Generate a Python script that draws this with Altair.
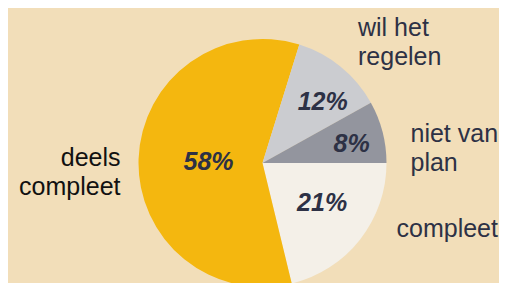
import altair as alt
import pandas as pd

# ---- data ----
categories = ["compleet", "deels compleet", "wil het regelen", "niet van plan"]
values = [21, 58, 12, 8]
pct_labels = ["21%", "58%", "12%", "8%"]
slice_colors = ["#F4F0E8", "#F4B70F", "#CBCCD0", "#93959E"]
outer_labels = ["compleet", "deels\ncompleet", "wil het\nregelen", "niet van\nplan"]

df = pd.DataFrame({
    "cat": categories,
    "value": values,
    "pct": pct_labels,
    "outer": outer_labels,
    "order": list(range(len(categories))),
})

BG = "#F2DEB9"
TXT = "#2D3145"
OFF = 8  # page margin
CX, CY, R = 262.5 - OFF, 163 - OFF, 124
FONT = "Liberation Sans"

base = alt.Chart(df).transform_joinaggregate(
    total="sum(value)"
).transform_window(
    cum="sum(value)", sort=[alt.SortField("order")], frame=[None, 0]
).transform_calculate(
    end="PI/2 + 2*PI*datum.cum/datum.total",
    start="PI/2 + 2*PI*(datum.cum - datum.value)/datum.total",
).transform_calculate(
    mid="(datum.start + datum.end)/2"
)

pie = base.mark_arc(radius=R).encode(
    theta=alt.Theta("start:Q", scale=None),
    theta2="end:Q",
    color=alt.Color("cat:N", scale=alt.Scale(domain=categories, range=slice_colors), legend=None),
    x=alt.value(CX),
    y=alt.value(CY),
)

# percentage labels: radius and small offsets per slice
pct_style = {
    "compleet": (72, 3, -5),
    "deels compleet": (54, 0, 1),
    "wil het regelen": (86, 6, 6),
    "niet van plan": (91, 1, 4),
}
pct_layers = []
for c in categories:
    r, dx, dy = pct_style[c]
    pct_layers.append(
        base.transform_filter(alt.datum.cat == c).mark_text(
            radius=r, dx=dx, dy=dy, font=FONT, fontSize=25, fontWeight="bold",
            fontStyle="italic", color=TXT, align="center", baseline="middle",
        ).encode(
            theta=alt.Theta("mid:Q", scale=None),
            text="pct:N",
            x=alt.value(CX),
            y=alt.value(CY),
        )
    )

# category labels outside the pie
outer_style = {
    "compleet": (396.5, 236.5, "left", TXT),
    "deels compleet": (120.5, 166, "right", "#111111"),
    "wil het regelen": (358, 36, "left", TXT),
    "niet van plan": (410.5, 142, "left", TXT),
}
outer_layers = []
for c in categories:
    x, y, al, col = outer_style[c]
    outer_layers.append(
        alt.Chart(df).transform_filter(alt.datum.cat == c).mark_text(
            font=FONT, fontSize=25, color=col, align=al, baseline="alphabetic",
            lineBreak="\n", lineHeight=29,
        ).encode(
            text="outer:N",
            x=alt.value(x - OFF),
            y=alt.value(y - OFF),
        )
    )

chart = alt.layer(pie, *pct_layers, *outer_layers).properties(
    width=491, height=275,
    autosize=alt.AutoSizeParams(type="none"),
    padding=0,
    background=BG,
).configure_view(stroke=None)

chart.save("out.html", embed_options={"renderer": "svg", "actions": False})
